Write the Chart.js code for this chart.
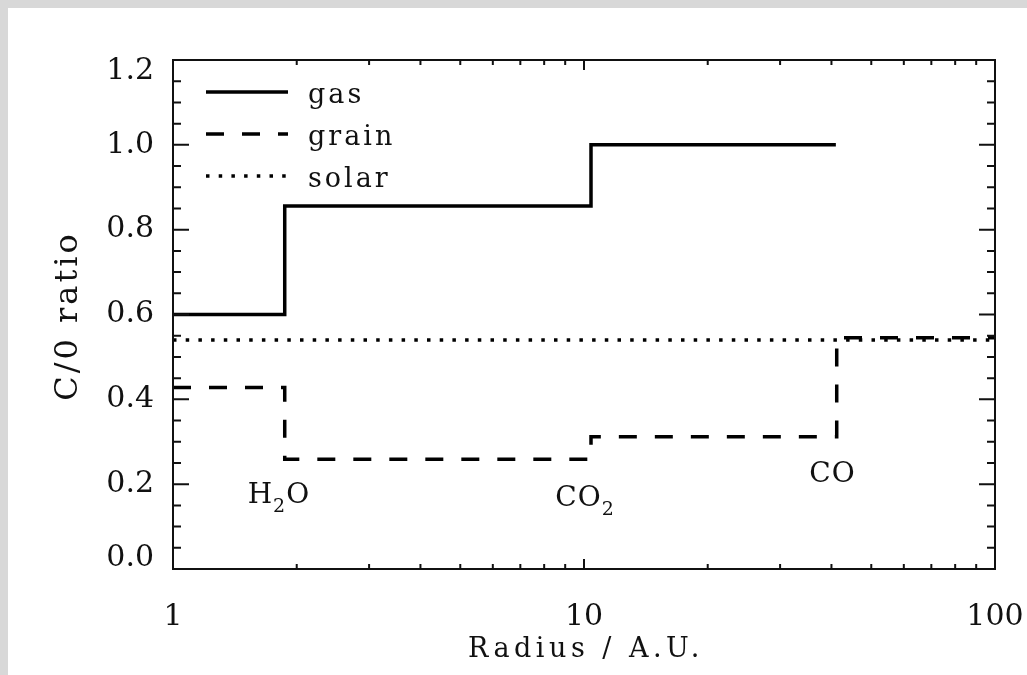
<!DOCTYPE html>
<html>
<head>
<meta charset="utf-8">
<script src="https://cdn.jsdelivr.net/npm/chart.js@4.4.0/dist/chart.umd.min.js"></script>
<style>
  html, body { margin: 0; padding: 0; background: #d8d8d8; }
  #marco { position: absolute; left: 8px; top: 8px; }
  canvas { display: block; background: #fff; }
</style>
</head>
<body>
<div id="marco"><canvas id="graficoCO" width="1019" height="667"></canvas></div>
<script>
// Valores (radio en UA, cociente C/O)
var gasRadio = [1, 1.87, 10.4, 41];
var gasCO = [0.60, 0.856, 1.0, 1.0];

var granoRadio = [1, 1.87, 10.4, 41.2, 100];
var granoCO = [0.428, 0.259, 0.312, 0.545, 0.545];

var solarRadio = [1, 100];
var solarCO = [0.54, 0.54];

var nombresSerie = ['gas', 'grain', 'solar'];

// marcas con etiqueta
var etiquetasX = [1, 10, 100];
var etiquetasY = [0.0, 0.2, 0.4, 0.6, 0.8, 1.0, 1.2];

// lineas de hielo: [texto, subindice, resto]
var hieloTexto = [['H', '2', 'O'], ['CO', '2', ''], ['CO', '', '']];
var hieloRadio = [1.81, 10.06, 40.24];
var hieloCO = [0.156, 0.149, 0.205];

var fuente = '"DejaVu Serif", "Liberation Serif", serif';
var tinta = '#111';

function puntos(xs, ys) {
  return xs.map(function (x, i) { return { x: x, y: ys[i] }; });
}

// Dibuja caja, marcas hacia dentro, leyenda, titulos y nombres de hielos
var marcasPlugin = {
  id: 'marcas',
  afterDraw: function (chart) {
    var ctx = chart.ctx;
    var area = chart.chartArea;
    var ex = chart.scales.x;
    var ey = chart.scales.y;

    ctx.save();
    ctx.strokeStyle = tinta;
    ctx.fillStyle = tinta;
    ctx.lineWidth = 2;
    ctx.setLineDash([]);
    ctx.strokeRect(area.left, area.top, area.right - area.left, area.bottom - area.top);

    // marcas del eje y, izquierda y derecha
    ey.ticks.forEach(function (t) {
      var py = ey.getPixelForValue(t.value);
      var largo = t.label !== '' ? 16 : 8;
      ctx.beginPath();
      ctx.moveTo(area.left, py);
      ctx.lineTo(area.left + largo, py);
      ctx.moveTo(area.right, py);
      ctx.lineTo(area.right - largo, py);
      ctx.stroke();
    });

    // marcas del eje x (log), abajo y arriba
    ex.ticks.forEach(function (t) {
      var dec = Math.pow(10, Math.floor(Math.log10(t.value) + 1e-9));
      var sig = t.value / dec;
      if (Math.abs(sig - Math.round(sig)) > 1e-6) return;
      var px = ex.getPixelForValue(t.value);
      var largo = t.label !== '' ? 10 : 5;
      ctx.beginPath();
      ctx.moveTo(px, area.bottom);
      ctx.lineTo(px, area.bottom - largo);
      ctx.moveTo(px, area.top);
      ctx.lineTo(px, area.top + largo);
      ctx.stroke();
    });

    // leyenda
    ctx.font = '27px ' + fuente;
    ctx.letterSpacing = '3px';
    ctx.textAlign = 'left';
    ctx.textBaseline = 'alphabetic';
    chart.data.datasets.forEach(function (ds, i) {
      var ly = area.top + 32 + i * 42;
      ctx.lineWidth = ds.borderWidth;
      ctx.strokeStyle = ds.borderColor;
      ctx.setLineDash(ds.borderDash || []);
      ctx.beginPath();
      ctx.moveTo(area.left + 33, ly);
      ctx.lineTo(area.left + 115, ly);
      ctx.stroke();
      ctx.setLineDash([]);
      ctx.fillText(ds.label, area.left + 135, ly + 10.5);
    });

    // nombres de los hielos con subindice
    ctx.letterSpacing = '1px';
    hieloTexto.forEach(function (partes, i) {
      var cx = ex.getPixelForValue(hieloRadio[i]);
      var base = ey.getPixelForValue(hieloCO[i]);
      ctx.font = '28px ' + fuente;
      var w1 = ctx.measureText(partes[0]).width;
      var w3 = ctx.measureText(partes[2]).width;
      ctx.font = '19px ' + fuente;
      var w2 = ctx.measureText(partes[1]).width;
      var x0 = cx - (w1 + w2 + w3) / 2;
      ctx.font = '28px ' + fuente;
      ctx.fillText(partes[0], x0, base);
      ctx.fillText(partes[2], x0 + w1 + w2, base);
      ctx.font = '19px ' + fuente;
      ctx.fillText(partes[1], x0 + w1, base + 9);
    });

    // titulos de los ejes
    ctx.textAlign = 'center';
    ctx.font = '27px ' + fuente;
    ctx.letterSpacing = '4.5px';
    ctx.fillText('Radius / A.U.', (area.left + area.right) / 2 + 2, area.bottom + 88);

    ctx.font = '32px ' + fuente;
    ctx.letterSpacing = '3px';
    ctx.translate(69, (area.top + area.bottom) / 2 + 1.5);
    ctx.rotate(-Math.PI / 2);
    ctx.fillText('C/0 ratio', 0, 0);
    ctx.restore();
  }
};

var ctx = document.getElementById('graficoCO').getContext('2d');

var myChart = new Chart(ctx, {
  type: 'line',
  data: {
    datasets: [{
      label: nombresSerie[0],
      data: puntos(gasRadio, gasCO),
      borderColor: '#000',
      borderWidth: 3.5,
      stepped: 'before',
      pointRadius: 0,
      fill: false
    }, {
      label: nombresSerie[1],
      data: puntos(granoRadio, granoCO),
      borderColor: '#000',
      borderWidth: 3.5,
      borderDash: [18, 18],
      stepped: 'before',
      pointRadius: 0,
      fill: false
    }, {
      label: nombresSerie[2],
      data: puntos(solarRadio, solarCO),
      borderColor: '#000',
      borderWidth: 3.5,
      borderDash: [3.5, 9.2],
      pointRadius: 0,
      fill: false
    }]
  },
  options: {
    responsive: false,
    animation: false,
    layout: { padding: { left: 0, top: 52, right: 32, bottom: 0 } },
    plugins: {
      legend: { display: false },
      tooltip: { enabled: false }
    },
    scales: {
      x: {
        type: 'logarithmic',
        min: 1,
        max: 100,
        grid: { display: false },
        border: { display: false },
        ticks: {
          autoSkip: false,
          maxRotation: 0,
          minRotation: 0,
          padding: 22,
          color: tinta,
          font: { family: fuente, size: 30 },
          callback: function (v) {
            return etiquetasX.indexOf(v) >= 0 ? String(v) : '';
          }
        },
        afterFit: function (s) {
          s.height = 106;
          s.paddingLeft = 0;
          s.paddingRight = 0;
        }
      },
      y: {
        min: 0,
        max: 1.2,
        grid: { display: false },
        border: { display: false },
        ticks: {
          stepSize: 0.05,
          autoSkip: false,
          padding: 11,
          color: tinta,
          font: { family: fuente, size: 30, lineHeight: '22px' },
          callback: function (v) {
            var hay = etiquetasY.some(function (m) { return Math.abs(m - v) < 1e-6; });
            if (!hay) return '';
            // las etiquetas de los extremos van metidas hacia dentro
            if (v === 0) return [v.toFixed(1), ''];
            if (Math.abs(v - 1.2) < 1e-6) return ['', v.toFixed(1)];
            return v.toFixed(1);
          }
        },
        afterFit: function (s) {
          s.width = 165;
          s.paddingTop = 0;
          s.paddingBottom = 0;
        }
      }
    }
  },
  plugins: [marcasPlugin]
});
</script>
</body>
</html>
